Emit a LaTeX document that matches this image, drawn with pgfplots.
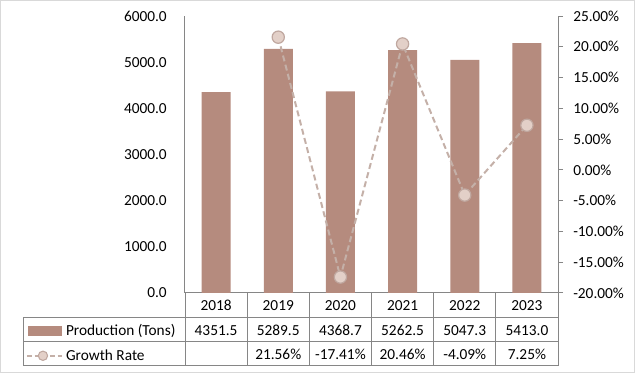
\documentclass[border=0pt]{standalone}
\usepackage{pgfplots}
\pgfplotsset{compat=1.18}
\usepackage{fontspec}
\setmainfont{Carlito}
\definecolor{barcol}{RGB}{181,139,126}
\definecolor{linecol}{RGB}{196,176,168}
\definecolor{mkfill}{RGB}{227,208,200}
\definecolor{mkdraw}{RGB}{192,168,160}
\definecolor{axcol}{RGB}{134,134,134}
\definecolor{framecol}{RGB}{217,217,217}
\newcommand\cf{\fontsize{11.5}{13}\selectfont}
\begin{document}
\begin{tikzpicture}
\begin{axis}[
  scale only axis, width=279.75pt, height=207.75pt,
  at={(0pt,0pt)}, anchor=south west,
  xmin=-0.5, xmax=5.5, ymin=0, ymax=6000,
  axis y line*=left, axis x line*=bottom,
  axis line style={draw=axcol, line width=0.75pt, -},
  major tick length=0pt,
  xtick={0,...,5}, xticklabels={2018,2019,2020,2021,2022,2023},
  xticklabel style={anchor=center, inner sep=0pt, yshift=-9.5pt},
  ytick={0,1000,...,6000},
  yticklabel style={anchor=east, inner sep=0pt, xshift=-13.5pt,
    /pgf/number format/fixed, /pgf/number format/fixed zerofill,
    /pgf/number format/precision=1, /pgf/number format/1000 sep={}},
  tick label style={font=\cf},
  /pgf/number format/assume math mode=true,
  legend style={at={(-0.43298,-0.0939)}, anchor=north west, draw=none, fill=none,
    inner sep=0pt, outer sep=0pt, row sep=0pt, font=\cf,
    nodes={inner sep=0pt, outer sep=0pt}},
  legend cell align=left,
]
\addplot[ybar, bar width=21.75pt, fill=barcol, draw=none,
  legend image code/.code={\path[draw=none,fill=none] (0pt,-9.1875pt) rectangle (31.9pt,9.1875pt);
    \fill[barcol, draw=none] (3.375pt,-3.75pt) rectangle (28.875pt,3.75pt);}]
  coordinates {(0,4351.5)(1,5289.5)(2,4368.7)(3,5262.5)(4,5047.3)(5,5413.0)};
\addlegendentry{Production (Tons)}
\addlegendimage{legend image code/.code={\path[draw=none,fill=none] (0pt,-9.1875pt) rectangle (31.9pt,9.1875pt);
    \draw[linecol, line width=1.4pt, dash pattern=on 3.5pt off 2.25pt] (2.6pt,0pt) -- (28.9pt,0pt);
    \draw[mkdraw, fill=mkfill, line width=0.8pt] (14.6pt,0pt) circle (3.5pt);}}
\addlegendentry{Growth Rate}
\end{axis}
\begin{axis}[
  scale only axis, width=279.75pt, height=207.75pt,
  at={(0pt,0pt)}, anchor=south west,
  xmin=-0.5, xmax=5.5, ymin=-20, ymax=25,
  axis y line*=right, axis x line=none,
  axis line style={draw=axcol, line width=0.75pt, -},
  tick align=outside, major tick length=3.75pt,
  tick style={draw=axcol, line width=0.75pt},
  ytick={-20,-15,...,25},
  yticklabel={\pgfmathprintnumber[fixed,fixed zerofill,precision=2]{\tick}\%},
  yticklabel style={anchor=west, inner sep=0pt, xshift=7.5pt},
  tick label style={font=\cf},
  /pgf/number format/assume math mode=true,
]
\addplot[linecol, line width=1.5pt, dash pattern=on 4.5pt off 2.6pt, mark=*, mark size=4.6pt,
  mark options={solid, fill=mkfill, draw=mkdraw, line width=0.9pt}]
  coordinates {(1,21.56)(2,-17.41)(3,20.46)(4,-4.09)(5,7.25)};
\end{axis}
\begin{scope}[x=0.75pt, y=-0.75pt, shift={(-138.75pt,219.75pt)}]
\path[use as bounding box] (0,0) rectangle (635,374);
\draw[framecol, line width=0.75pt] (0.5,0.5) rectangle (634.5,372.5);
\begin{scope}[axcol, line width=0.75pt]
\draw (23.5,317.5) -- (558,317.5);
\draw (23.5,342) -- (558,342);
\draw (23.5,366) -- (558,366);
\draw (23.5,317.5) -- (23.5,366);
\foreach \k in {0,...,6} {\draw (185+62.1667*\k,293) -- (185+62.1667*\k,366);}
\end{scope}
\begin{scope}[font=\cf]
\node at (216.08,330.5) {4351.5};
\node at (278.25,330.5) {5289.5};
\node at (340.42,330.5) {4368.7};
\node at (402.58,330.5) {5262.5};
\node at (464.75,330.5) {5047.3};
\node at (526.92,330.5) {5413.0};
\node at (278.25,354.5) {21.56\%};
\node at (340.42,354.5) {-17.41\%};
\node at (402.58,354.5) {20.46\%};
\node at (464.75,354.5) {-4.09\%};
\node at (526.92,354.5) {7.25\%};
\end{scope}
\end{scope}
\end{tikzpicture}
\end{document}
